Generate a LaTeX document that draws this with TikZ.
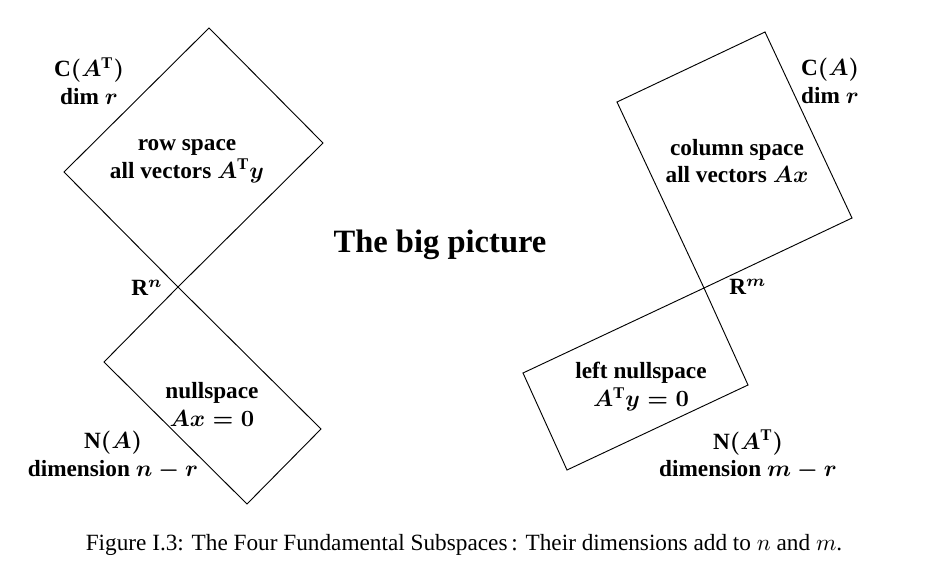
\documentclass[tikz,border=0pt]{standalone}
\usepackage{amsmath}
\usepackage{fontspec}
\setmainfont{Liberation Serif}
\usepackage{tikz}

\begin{document}
\begin{tikzpicture}[x=0.43pt, y=-0.43pt,
    space/.style={thin, line join=miter},
    lbl/.style={font=\bfseries\boldmath, align=center, inner sep=1pt}]
                \useasboundingbox (0,0) rectangle (929,576);

                % Left: the four corners meet at R^n
                \coordinate (rn) at (178,287);
                \draw[space] (rn) -- (64,172) -- (209,28) -- (323,143) -- cycle;
                \draw[space] (rn) -- (104,362) -- (247,504) -- (321,429) -- cycle;

                % Right: the corners meet at R^m
                \coordinate (rm) at (704,288);
                \draw[space] (rm) -- (617,102) -- (765,32) -- (852,218) -- cycle;
                \draw[space] (rm) -- (523,373) -- (567,470) -- (748,385) -- cycle;

                % Row space and nullspace
                \node[lbl] (row) at (187,161) {row space\\all vectors $A^{\mathrm{T}}y$};
                \node[lbl] (null) at (212,404) {nullspace\\$Ax=0$};
                \node[lbl] (crow) at (89,81) {C$(A^{\mathrm{T}})$\\dim $r$};
                \node[lbl] (nnull) at (113,455) {N$(A)$\\dimension $n-r$};
                \node[lbl] (Rn) at (147,288) {R$^n$};

                % Column space and left nullspace
                \node[lbl] (col) at (737,161) {column space\\all vectors $Ax$};
                \node[lbl] (lnull) at (641,387) {left nullspace\\$A^{\mathrm{T}}y=0$};
                \node[lbl] (ccol) at (830,81) {C$(A)$\\dim $r$};
                \node[lbl] (nlnull) at (748,455) {N$(A^{\mathrm{T}})$\\dimension $m-r$};
                \node[lbl] (Rm) at (748,287) {R$^m$};

                % Title and caption
                \node[font=\fontsize{14}{16}\selectfont\bfseries] (title) at (440,245) {The big picture};
                \node[font=\normalsize] (caption) at (464,545) {Figure I.3: The Four Fundamental Subspaces\,: Their dimensions add to $n$ and $m$.};
            \end{tikzpicture}
\end{document}
